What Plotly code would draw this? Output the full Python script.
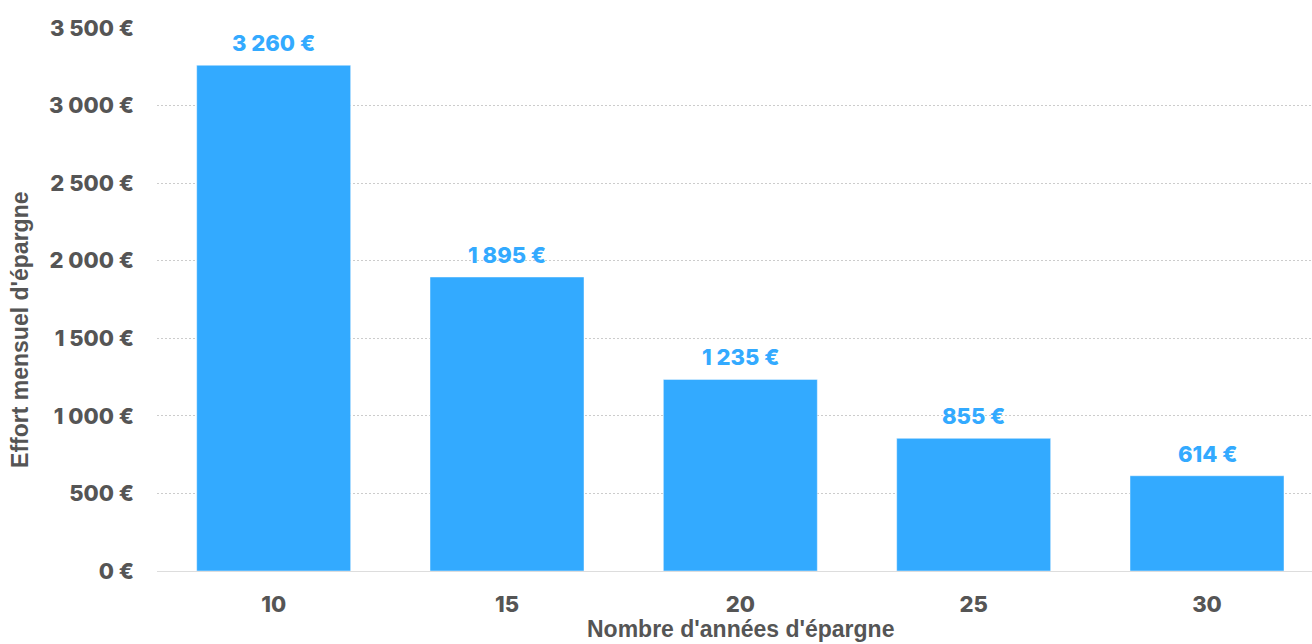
import plotly.graph_objects as go

years = ["10", "15", "20", "25", "30"]
values = [3260, 1895, 1235, 855, 614]
value_labels = ["3 260 €", "1 895 €", "1 235 €", "855 €", "614 €"]
y_ticks = [0, 500, 1000, 1500, 2000, 2500, 3000, 3500]
y_tick_labels = ["0 €", "500 €", "1 000 €", "1 500 €", "2 000 €", "2 500 €", "3 000 €", "3 500 €"]

BLUE = "#33aaff"
GREY = "#555555"
FONT = "Inter"

fig = go.Figure()
fig.add_trace(go.Bar(
    x=years, y=values,
    marker=dict(color=BLUE, line=dict(color="rgba(255,255,255,0.45)", width=1)),
    hoverinfo="skip",
))

for i, (v, lab) in enumerate(zip(values, value_labels)):
    fig.add_annotation(x=i, y=v, text=lab, showarrow=False, yanchor="bottom",
                       yshift=7, font=dict(family=FONT, size=22, color=BLUE, weight=800))

fig.add_annotation(xref="paper", yref="paper", x=0.5048, y=0, yshift=-73, yanchor="bottom",
                   text="Nombre d'années d'épargne", showarrow=False,
                   font=dict(family="Liberation Sans", size=23, color=GREY, weight="bold"))

fig.add_annotation(xref="paper", yref="paper", x=-0.1186, y=0.444, xanchor="center", yanchor="middle",
                   textangle=-90, text="Effort mensuel d'épargne", showarrow=False,
                   font=dict(family="Liberation Sans", size=23, color=GREY, weight="bold"))

fig.update_layout(
    width=1312, height=644,
    margin=dict(l=157, r=0, t=28, b=73),
    paper_bgcolor="white", plot_bgcolor="white",
    bargap=0.34,
    showlegend=False,
    xaxis=dict(
        type="category", range=[-0.5, 4.45],
        showgrid=False, showline=True, linecolor="#dddddd", linewidth=1,
        ticks="", ticklabelstandoff=14,
        tickfont=dict(family=FONT, size=22, color=GREY, weight=800),
    ),
    yaxis=dict(
        range=[0, 3500], tickvals=y_ticks, ticktext=y_tick_labels,
        showgrid=True, gridcolor="#cccccc", griddash="2px,2px", gridwidth=1,
        zeroline=False, showline=False,
        ticks="", ticklabelstandoff=22,
        tickfont=dict(family=FONT, size=22, color=GREY, weight=800),
    ),
)

fig.write_html("out.html")
